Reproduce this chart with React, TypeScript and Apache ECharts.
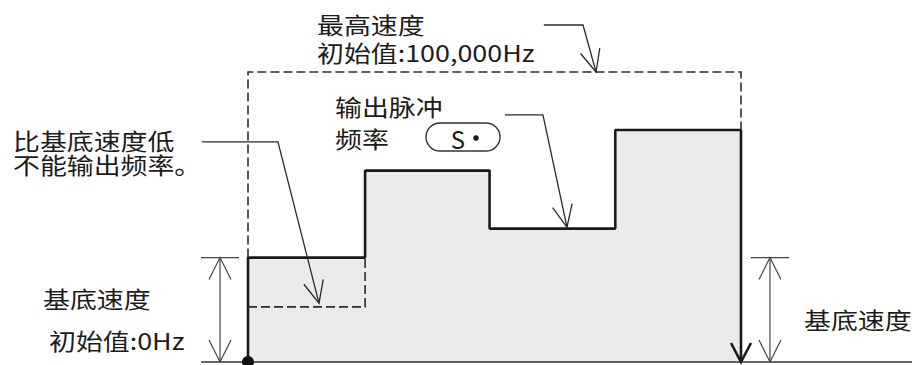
import React, { useEffect, useRef } from "react";
import * as echarts from "echarts";

// ---- data (time units, Hz) ----
const stepTimes = [0, 0.95, 1.96, 2.98, 4];
const stepLevels = [36000, 66000, 46000, 80000];
const baseSpeed = 36000;
const maxSpeed = 100000;
const belowBaseLevel = 19000;
const baselineRange = [-0.381, 5.4];
const leftDimX = -0.227;
const leftDimTick = [-0.381, -0.073];
const rightDimX = 4.235;
const rightDimTick = [4.08, 4.39];
const leaderLow = [[-0.373, 75900], [0.243, 75900], [0.576, 20300]];
const leaderOutput = [[2.085, 85200], [2.393, 85200], [2.588, 46500]];
const leaderMax = [[2.4, 116200], [2.718, 116200], [2.824, 100000]];

const FONT = '"Noto Sans CJK SC", "Noto Sans", sans-serif';
const TXT = "#1c1c1c";

export default function App() {
  const ref = useRef<HTMLDivElement>(null);
  useEffect(() => {
    if (!ref.current) return;
    const chart = echarts.init(ref.current, undefined, { renderer: "svg" });

    const last = stepTimes.length - 1;
    const stepData: number[][] = [[stepTimes[0], 0]];
    stepLevels.forEach((v, i) => stepData.push([stepTimes[i], v]));
    stepData.push([stepTimes[last], stepLevels[stepLevels.length - 1]]);
    stepData.push([stepTimes[last], 0]);

    const renderItem = (_params: any, api: any) => {
      const P = (p: number[]) => api.coord(p);
      const children: any[] = [];
      const poly = (pts: number[][], style: any) =>
        children.push({ type: "polyline", shape: { points: pts }, style: { fill: null, ...style } });
      const arrow = (tip: number[], from: number[], L: number, W: number, style: any) => {
        const dx = tip[0] - from[0];
        const dy = tip[1] - from[1];
        const n = Math.hypot(dx, dy) || 1;
        const ux = dx / n, uy = dy / n;
        const bx = tip[0] - L * ux, by = tip[1] - L * uy;
        poly([[bx - W * uy, by + W * ux], tip, [bx + W * uy, by - W * ux]], style);
      };
      const dash = { stroke: "#2e2e2e", lineWidth: 1.6, lineDash: [9, 4] };
      const thin = { stroke: "#2a2a2a", lineWidth: 1.3 };
      const dim = { stroke: "#444", lineWidth: 1.2 };

      // baseline
      poly([P([baselineRange[0], 0]), P([baselineRange[1], 0])], { stroke: "#333", lineWidth: 1.6 });
      // max speed dashed frame
      poly([P([0, baseSpeed]), P([0, maxSpeed]), P([stepTimes[last], maxSpeed]), P([stepTimes[last], stepLevels[3]])], dash);
      // below-base dashed region
      poly([P([0, belowBaseLevel]), P([stepTimes[1], belowBaseLevel]), P([stepTimes[1], baseSpeed])], dash);
      // dimension markers
      for (const [x, tick] of [[leftDimX, leftDimTick], [rightDimX, rightDimTick]] as any) {
        const a = P([x, 0]);
        const b = P([x, baseSpeed]);
        poly([a, b], dim);
        poly([P([tick[0], baseSpeed]), P([tick[1], baseSpeed])], dim);
        arrow(b, a, 22, 11, dim);
        arrow(a, b, 22, 11, dim);
      }
      // leader lines
      for (const pts of [leaderLow, leaderOutput, leaderMax]) {
        const px = pts.map(P);
        poly(px, thin);
        arrow(px[px.length - 1], px[px.length - 2], 22, 10, thin);
      }
      // arrow at end of pulse output
      arrow(P([stepTimes[last], 0]), P([stepTimes[last], stepLevels[3]]), 19, 10, { stroke: "#1a1a1a", lineWidth: 2.6 });
      // start dot
      const o = P([0, 0]);
      children.push({ type: "circle", shape: { cx: o[0], cy: o[1], r: 6 }, style: { fill: "#111" } });
      return { type: "group", children };
    };

    const txt = (text: string, x: number, y: number) => ({
      type: "text",
      x,
      y,
      scaleX: 1.17,
      style: { text, fill: TXT, fontSize: 23, fontFamily: FONT, verticalAlign: "middle", align: "left" },
    });

    chart.setOption({
      animation: false,
      backgroundColor: "#fff",
      grid: { left: 248, top: 72, width: 493, height: 290 },
      xAxis: { type: "value", min: 0, max: 4, show: false },
      yAxis: { type: "value", min: 0, max: 100000, show: false },
      series: [
        {
          type: "line",
          data: stepData,
          step: "end",
          showSymbol: false,
          clip: false,
          lineStyle: { color: "#1a1a1a", width: 2.6 },
          areaStyle: { color: "#ebebeb", opacity: 1 },
          z: 2,
        },
        {
          type: "custom",
          data: [[0, 0]],
          clip: false,
          renderItem,
          z: 3,
        },
      ],
      graphic: [
        txt("最高速度", 317, 24),
        txt("初始值:100,000Hz", 317, 52),
        txt("输出脉冲", 335, 106),
        txt("频率", 335, 138),
        txt("比基底速度低", 13, 140),
        txt("不能输出频率。", 13, 164),
        txt("基底速度", 43, 298),
        txt("初始值:0Hz", 49, 340),
        txt("基底速度", 804, 319),
        {
          type: "rect",
          shape: { x: 426, y: 123, width: 74, height: 28, r: 14 },
          style: { fill: "#fff", stroke: "#333", lineWidth: 1.4 },
        },
        {
          type: "text",
          x: 458,
          y: 138,
          style: { text: "S", fill: TXT, fontSize: 24, fontFamily: FONT, align: "center", verticalAlign: "middle" },
        },
        {
          type: "circle",
          shape: { cx: 476, cy: 138, r: 2.8 },
          style: { fill: TXT },
        },
      ],
    });
    return () => chart.dispose();
  }, []);
  return (
    <div
      ref={ref}
      style={{ position: "fixed", left: 0, top: 0, width: 912, height: 365, background: "#fff" }}
    />
  );
}
